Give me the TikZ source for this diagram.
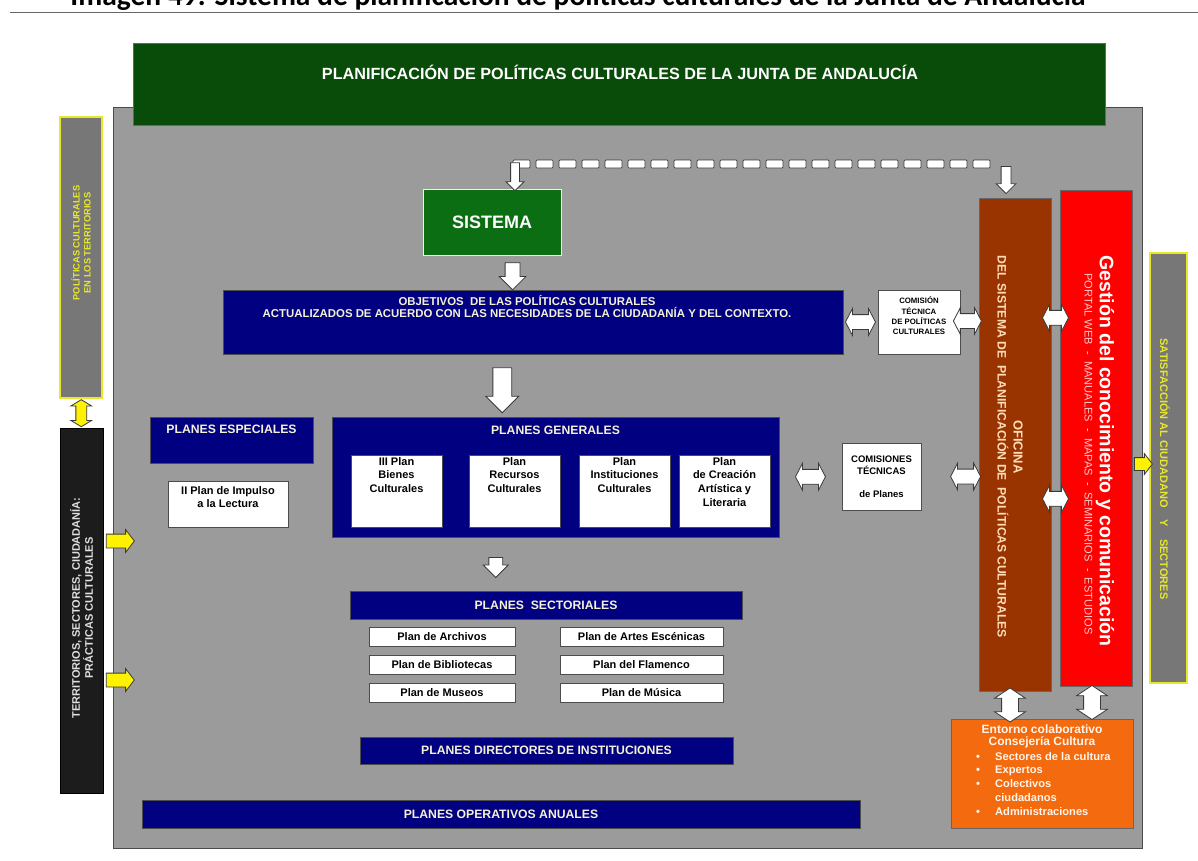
\documentclass[tikz,border=0pt]{standalone}
\usepackage{fontspec}
\setmainfont{Liberation Sans}
\newfontfamily\headfont{Carlito}
\usetikzlibrary{shapes.arrows,calc}
\definecolor{panelgray}{HTML}{9B9B9B}
\definecolor{paneledge}{HTML}{4A4A4A}
\definecolor{titlegreen}{HTML}{094B09}
\definecolor{sysgreen}{HTML}{0B6E12}
\definecolor{navy}{HTML}{000080}
\definecolor{brownbox}{HTML}{993300}
\definecolor{redbox}{HTML}{FF0000}
\definecolor{orangebox}{HTML}{F46A0E}
\definecolor{sidegray}{HTML}{777777}
\definecolor{sideyellow}{HTML}{E8E82A}
\definecolor{blackbox}{HTML}{1C1C1C}
\definecolor{paletext}{HTML}{F4F2D6}
\definecolor{peach}{HTML}{FFDDB8}
\definecolor{pinktext}{HTML}{FFC8C8}
\definecolor{arrowedge}{HTML}{3A3A3A}
\tikzset{
  box/.style={rectangle, inner sep=0pt, font=\bfseries},
  navybox/.style={box, fill=navy, draw=black!70, line width=0.6pt, text=paletext},
  navylabel/.style={font=\bfseries\fontsize{12.2}{14}\selectfont},
  whitebox/.style={box, fill=white, draw=black!70, line width=0.8pt, text=black, align=center},
  sidebox/.style={box, fill=sidegray, draw=sideyellow, line width=1.2pt, text=sideyellow, align=center},
  % block arrows: shaft half-thickness via inner ysep, head overhang via head extend
  blockarrow/.style={single arrow, fill=white, draw=arrowedge, line width=0.8pt,
    inner xsep=0pt, inner ysep=#1, minimum width=1pt, single arrow head indent=0pt},
  blockdbl/.style={double arrow, fill=white, draw=arrowedge, line width=0.8pt,
    inner xsep=0pt, inner ysep=#1, minimum width=1pt, double arrow head indent=0pt,
    double arrow tip angle=125},
  yellowarrow/.style={blockarrow=#1, fill=yellow, single arrow tip angle=105},
  yellowdbl/.style={blockdbl=#1, fill=yellow, double arrow tip angle=118},
  dashbox/.style={fill=white, draw=arrowedge, line width=0.7pt, rounded corners=1pt},
}
\begin{document}
\begin{tikzpicture}[x=1pt,y=-1pt]
\path[use as bounding box] (0,0) rectangle (1198,860);
\clip (0,0) rectangle (1198,860);
\fill[white] (0,0) rectangle (1198,860);

% caption running off the top edge, and its rule
\node[anchor=base, font=\headfont\bfseries\fontsize{29.5}{31}\selectfont, inner sep=0pt]
  (caption) at (578,5.5) {Imagen 49. Sistema de planificación de políticas culturales de la Junta de Andalucía};
\draw[gray!80!black, line width=1.2pt] (10,12.5) -- (1198,12.5);

% main grey panel and title band
\node[box, fill=panelgray, draw=paneledge, line width=1pt, minimum width=1029pt, minimum height=741pt]
  (panel) at (627.5,477.5) {};
\node[box, fill=titlegreen, draw=black!60, line width=0.6pt, minimum width=972pt, minimum height=82pt]
  (title) at (619,84) {};
\node[font=\bfseries\fontsize{16.2}{18}\selectfont, text=white] (titletext) at (620,72)
  {PLANIFICACIÓN DE POLÍTICAS CULTURALES DE LA JUNTA DE ANDALUCÍA};

% side columns
\node[sidebox, minimum width=42pt, minimum height=281pt] (politicas) at (81,257.5) {};
\node[rotate=90, text=sideyellow, font=\bfseries\fontsize{9.3}{11}\selectfont, align=center]
  at (81,243) {POLÍTICAS CULTURALES\\EN LOS TERRITORIOS};
\node[box, fill=blackbox, draw=black, minimum width=43pt, minimum height=365pt] (territorios) at (81.5,610.5) {};
\node[rotate=90, text=white!88!black, font=\bfseries\fontsize{11}{13}\selectfont, align=center]
  at (81.5,608) {TERRITORIOS, SECTORES, CIUDADANÍA:\\PRÁCTICAS CULTURALES};
\node[sidebox, minimum width=37pt, minimum height=430pt] (satisfaccion) at (1168.5,468) {};
\node[rotate=-90, text=sideyellow, font=\bfseries\fontsize{11}{13}\selectfont]
  at (1165,469) {SATISFACCIÓN AL CIUDADANO\hspace{12pt}Y\hspace{12pt}SECTORES};

% SISTEMA and objectives
\node[box, fill=sysgreen, draw=white!85!green, line width=1pt, minimum width=138pt, minimum height=66pt,
  text=white, font=\bfseries\fontsize{18}{20}\selectfont] (sistema) at (492,222) {SISTEMA};
\node[navybox, minimum width=620pt, minimum height=64pt] (objetivos) at (533,322) {};
\node[text=paletext, font=\bfseries\fontsize{11.4}{12.5}\selectfont, align=center, anchor=north, inner sep=0pt]
  at (527,295) {OBJETIVOS\ \ DE LAS POLÍTICAS CULTURALES\\ACTUALIZADOS DE ACUERDO CON LAS NECESIDADES DE LA CIUDADANÍA Y DEL CONTEXTO.};
\node[whitebox, minimum width=82pt, minimum height=64pt, font=\bfseries\fontsize{7.8}{10.3}\selectfont]
  (comision) at (919,322) {COMISIÓN\\TÉCNICA\\DE POLÍTICAS\\CULTURALES\\[2pt]};

% special and general plans
\node[navybox, minimum width=163pt, minimum height=46pt] (especiales) at (231.5,440) {};
\node[text=paletext, navylabel] at (231.5,429) {PLANES ESPECIALES};
\node[whitebox, minimum width=120pt, minimum height=46pt, font=\bfseries\fontsize{11}{12.5}\selectfont]
  (impulso) at (228,504) {II Plan de Impulso\\a la Lectura\\[1pt]};

\node[navybox, minimum width=447pt, minimum height=120pt] (generales) at (555.5,477) {};
\node[text=paletext, navylabel] at (555.5,430) {PLANES GENERALES};
\foreach \nm/\cx/\txt in {bienes/396.5/{III Plan\\Bienes\\Culturales},
                         recursos/514.5/{Plan\\Recursos\\Culturales},
                         instituciones/624.5/{Plan\\Instituciones\\Culturales},
                         creacion/724.5/{Plan\\de Creación\\Artística y\\Literaria}}{
  \node[whitebox, minimum width=91pt, minimum height=72pt] (\nm) at (\cx,491) {};
  \node[anchor=north, align=center, inner sep=0pt, font=\bfseries\fontsize{11}{13.7}\selectfont]
    at (\cx,457) {\txt};
}
\node[whitebox, minimum width=79pt, minimum height=67pt, font=\bfseries\fontsize{9.5}{12}\selectfont]
  (comisiones) at (881.5,476.5) {COMISIONES\\TÉCNICAS\\[11pt]de Planes};

% sectoral plans
\node[navybox, navylabel, minimum width=392pt, minimum height=28pt]
  (sectoriales) at (546,605) {PLANES\ \ SECTORIALES};
\foreach \nm/\cx/\cy/\bw/\txt in {archivos/442/636.5/146/{Plan de Archivos},
                                bibliotecas/442/664.5/146/{Plan de Bibliotecas},
                                museos/442/692.5/146/{Plan de Museos},
                                escenicas/641.5/636.5/163/{Plan de Artes Escénicas},
                                flamenco/641.5/664.5/163/{Plan del Flamenco},
                                musica/641.5/692.5/163/{Plan de Música}}{
  \node[whitebox, minimum width=\bw pt, minimum height=19pt, font=\bfseries\fontsize{11}{12}\selectfont]
    (\nm) at (\cx,\cy) {\txt};
}
\node[navybox, navylabel, minimum width=373pt, minimum height=27pt]
  (directores) at (546.5,750.5) {PLANES DIRECTORES DE INSTITUCIONES};
\node[navybox, navylabel, minimum width=718pt, minimum height=28pt]
  (operativos) at (501,814) {PLANES OPERATIVOS ANUALES};

% office, knowledge management and collaborative environment
\node[box, fill=brownbox, draw=black!60, line width=0.8pt, minimum width=72pt, minimum height=493pt]
  (oficina) at (1015,444.5) {};
\node[rotate=-90, align=center, text=peach, font=\bfseries\fontsize{12.2}{16}\selectfont]
  at (1010,447) {{\fontsize{13}{15}\selectfont OFICINA}\\DEL SISTEMA DE\ \ PLANIFICACIÓN DE\ \ POLÍTICAS CULTURALES};
\node[box, fill=redbox, draw=black!60, line width=0.8pt, minimum width=72pt, minimum height=496pt]
  (gestion) at (1096,438) {};
\node[rotate=-90, text=white, font=\bfseries\fontsize{19.5}{21}\selectfont]
  at (1105,451) {Gestión del conocimiento y comunicación};
\node[rotate=-90, text=pinktext, font=\fontsize{11.1}{13}\selectfont]
  at (1088.5,454) {PORTAL WEB\ \ -\ \ MANUALES\ \ -\ \ MAPAS\ \ -\ \ SEMINARIOS\ \ -\ \ ESTUDIOS};

\node[box, fill=orangebox, draw=black!60, line width=0.8pt, minimum width=182pt, minimum height=109pt]
  (entorno) at (1042,773.5) {};
\node[anchor=north, align=center, text=white!92!orange, inner sep=0pt, font=\bfseries\fontsize{12}{11.5}\selectfont]
  at (1042,725) {Entorno colaborativo\\Consejería Cultura};
\node[anchor=north west, align=left, text=white!92!orange, inner sep=0pt, font=\bfseries\fontsize{11.1}{13.7}\selectfont]
  at (976,752) {\makebox[19pt][l]{•}Sectores de la cultura\\
                \makebox[19pt][l]{•}Expertos\\
                \makebox[19pt][l]{•}Colectivos\\
                \hspace*{19pt}ciudadanos\\
                \makebox[19pt][l]{•}Administraciones};

% dashed feedback line from the office back to the system
\coordinate (dashstart) at (513,164);
\coordinate (dashend) at (995,164);
\foreach \i in {0,...,20}{
  \draw[dashbox] ($(dashstart)+(\i*23,-4)$) rectangle ++(17,8);
}
\node[blockarrow=4pt, rotate=-90, minimum height=28pt, single arrow head extend=4.5pt]
  (tosistema) at ($(sistema.north)+(23,-14)$) {};
\node[blockarrow=4.5pt, rotate=-90, minimum height=27pt, single arrow head extend=5pt]
  (tooficina) at ($(oficina.north)+(-9,-20)$) {};

% downward flow arrows
\node[blockarrow=7pt, rotate=-90, minimum height=27pt, single arrow head extend=6pt]
  (a1) at ($(sistema.south)!0.5!(objetivos.north)$) {};
\node[blockarrow=9pt, rotate=-90, minimum height=45pt, single arrow head extend=7pt]
  (a2) at ($(objetivos.south)!0.5!(generales.north)+(-42,0)$) {};
\node[blockarrow=6.5pt, rotate=-90, minimum height=20pt, single arrow head extend=5.5pt]
  (a3) at ($(generales.south)!0.5!(sectoriales.north)+(-55,0)$) {};

% two-way links
\node[blockdbl=7pt, minimum height=30pt, double arrow head extend=6pt]
  (d1) at ($(objetivos.east)!0.5!(comision.west)$) {};
\node[blockdbl=7pt, minimum height=28pt, double arrow head extend=6pt]
  (d2) at ($(comision.east)+(7,-1)$) {};
\node[blockdbl=7pt, minimum height=30pt, double arrow head extend=6pt]
  (d3) at ($(generales.east)!0.5!(comisiones.west)$) {};
\node[blockdbl=7pt, minimum height=30pt, double arrow head extend=6pt]
  (d4) at ($(oficina.west |- comisiones.east)+(-13,0)$) {};
\node[blockdbl=7pt, minimum height=26pt, double arrow head extend=6pt]
  (d5) at ($(oficina.east)!0.5!(gestion.west)+(0,-123.5)$) {};
\node[blockdbl=7pt, minimum height=26pt, double arrow head extend=6pt]
  (d6) at ($(oficina.east)!0.5!(gestion.west)+(0,57.5)$) {};
\node[blockdbl=8pt, rotate=90, minimum height=34pt, double arrow head extend=7pt, double arrow tip angle=113]
  (d7) at ($(oficina.south)!0.5!(entorno.north)+(-18.5,0)$) {};
\node[blockdbl=8pt, rotate=90, minimum height=34pt, double arrow head extend=7pt, double arrow tip angle=113]
  (d8) at ($(gestion.south)!0.5!(entorno.north)+(23,0)$) {};

% yellow links to the side columns
\node[yellowdbl=5pt, rotate=90, minimum height=27pt, double arrow head extend=5pt]
  (y1) at ($(politicas.south)!0.5!(territorios.north)$) {};
\node[yellowarrow=6.5pt, minimum height=28pt, single arrow head extend=4.5pt]
  (y2) at ($(territorios.east)+(14.5,-69.5)$) {};
\node[yellowarrow=6.5pt, minimum height=28pt, single arrow head extend=4.5pt]
  (y3) at ($(territorios.east)+(14.5,69.5)$) {};
\node[yellowarrow=6pt, minimum height=18pt, single arrow head extend=4pt]
  (y4) at ($(gestion.east)!0.5!(satisfaccion.west)+(0,11)$) {};
\end{tikzpicture}
\end{document}
